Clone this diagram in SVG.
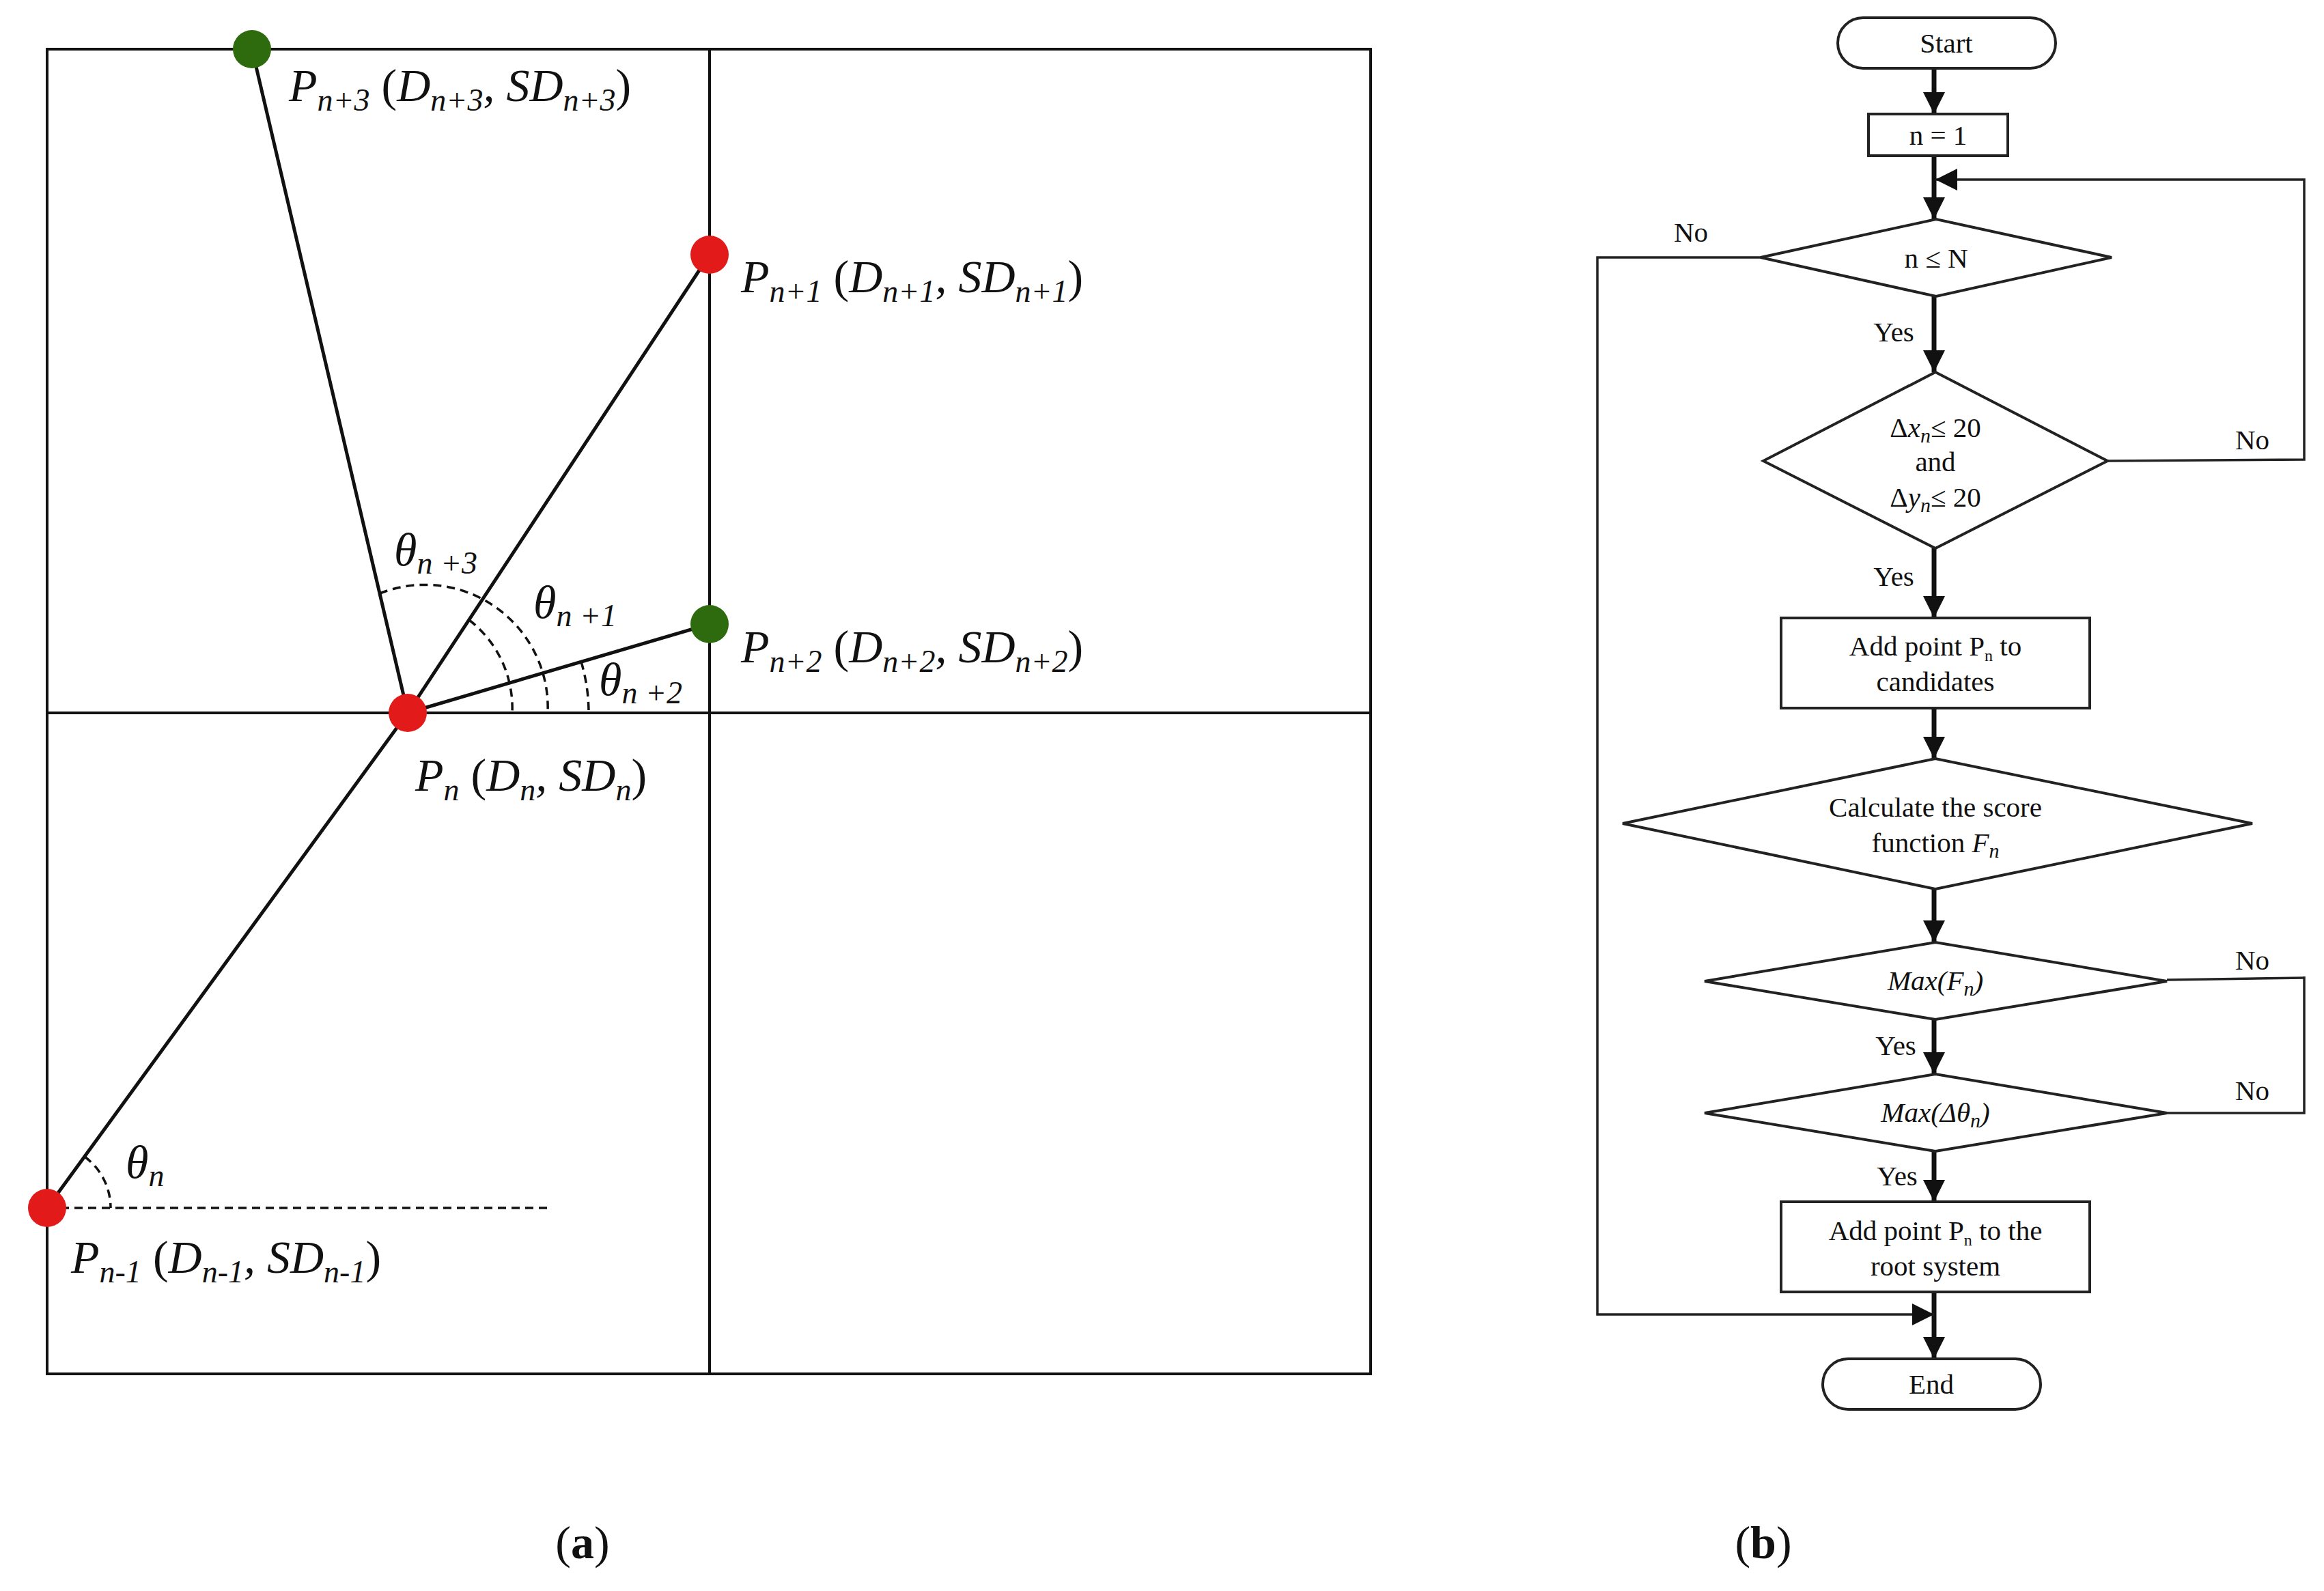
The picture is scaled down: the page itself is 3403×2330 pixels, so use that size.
<svg xmlns="http://www.w3.org/2000/svg" width="3403" height="2330" viewBox="0 0 3403 2330">
<style>
.t{font-family:"Liberation Serif",serif;fill:#111}
.lab{font-size:68px;font-style:italic}
.s{font-size:46px}
.fc{font-size:41px;text-anchor:middle}
.thin{stroke:#111;stroke-width:4;fill:none}
.seg{stroke:#111;stroke-width:5;fill:none}
.dash{stroke:#111;stroke-width:3.5;fill:none;stroke-dasharray:12 8}
.node{fill:#fff;stroke:#222;stroke-width:4}
.main{stroke:#111;stroke-width:7;fill:none}
.fl{stroke:#222;stroke-width:3.5;fill:none}
</style>
<defs>
<marker id="a2" viewBox="0 0 10 10" refX="10" refY="5" markerWidth="34" markerHeight="32" markerUnits="userSpaceOnUse" orient="auto"><path d="M0,0 L10,5 L0,10 z" fill="#111"/></marker>
</defs>
<rect width="3403" height="2330" fill="#fff"/>
<g id="panel-a">
<rect x="69" y="72" width="1938" height="1940" class="thin"/>
<line x1="1039" y1="72" x2="1039" y2="2012" class="thin"/>
<line x1="69" y1="1044" x2="2007" y2="1044" class="thin"/>
<line x1="69" y1="1769" x2="807" y2="1769" class="dash"/>
<line x1="597" y1="1044" x2="369" y2="72" class="seg"/>
<line x1="597" y1="1044" x2="1039" y2="373" class="seg"/>
<line x1="597" y1="1044" x2="1039" y2="914" class="seg"/>
<line x1="597" y1="1044" x2="69" y2="1769" class="seg"/>
<path d="M556,869 A180,180 0 0 1 802,1044" class="dash"/>
<path d="M687,908 A163,163 0 0 1 750,1044" class="dash"/>
<path d="M851,969 A265,265 0 0 1 862,1044" class="dash"/>
<path d="M124,1694 A93,93 0 0 1 162,1769" class="dash"/>
<circle cx="369" cy="72" r="28" fill="#2e6b0e"/>
<circle cx="1039" cy="373" r="28" fill="#e21a1a"/>
<circle cx="1039" cy="914" r="28" fill="#2e6b0e"/>
<circle cx="597" cy="1044" r="28" fill="#e21a1a"/>
<circle cx="69" cy="1769" r="28" fill="#e21a1a"/>
<text class="t lab" x="423" y="148">P<tspan class="s" dy="14">n+3</tspan><tspan dy="-14" font-style="normal"> (</tspan>D<tspan class="s" dy="14">n+3</tspan><tspan dy="-14">, SD</tspan><tspan class="s" dy="14">n+3</tspan><tspan dy="-14" font-style="normal">)</tspan></text>
<text class="t lab" x="1085" y="428">P<tspan class="s" dy="14">n+1</tspan><tspan dy="-14" font-style="normal"> (</tspan>D<tspan class="s" dy="14">n+1</tspan><tspan dy="-14">, SD</tspan><tspan class="s" dy="14">n+1</tspan><tspan dy="-14" font-style="normal">)</tspan></text>
<text class="t lab" x="1085" y="970">P<tspan class="s" dy="14">n+2</tspan><tspan dy="-14" font-style="normal"> (</tspan>D<tspan class="s" dy="14">n+2</tspan><tspan dy="-14">, SD</tspan><tspan class="s" dy="14">n+2</tspan><tspan dy="-14" font-style="normal">)</tspan></text>
<text class="t lab" x="608" y="1158">P<tspan class="s" dy="14">n</tspan><tspan dy="-14" font-style="normal"> (</tspan>D<tspan class="s" dy="14">n</tspan><tspan dy="-14">, SD</tspan><tspan class="s" dy="14">n</tspan><tspan dy="-14" font-style="normal">)</tspan></text>
<text class="t lab" x="104" y="1864">P<tspan class="s" dy="14">n-1</tspan><tspan dy="-14" font-style="normal"> (</tspan>D<tspan class="s" dy="14">n-1</tspan><tspan dy="-14">, SD</tspan><tspan class="s" dy="14">n-1</tspan><tspan dy="-14" font-style="normal">)</tspan></text>
<text class="t lab" x="577" y="828">θ<tspan class="s" dy="12">n +3</tspan></text>
<text class="t lab" x="781" y="905">θ<tspan class="s" dy="12">n +1</tspan></text>
<text class="t lab" x="877" y="1018">θ<tspan class="s" dy="12">n +2</tspan></text>
<text class="t lab" x="184" y="1725">θ<tspan class="s" dy="12">n</tspan></text>
<text class="t" x="853" y="2282" font-size="68" text-anchor="middle">(<tspan font-weight="bold">a</tspan>)</text>
<text class="t" x="2582" y="2282" font-size="68" text-anchor="middle">(<tspan font-weight="bold">b</tspan>)</text>
</g>
<g id="connectors">
<line x1="2832" y1="100" x2="2832" y2="167" class="main" marker-end="url(#a2)"/>
<line x1="2832" y1="228" x2="2832" y2="321" class="main" marker-end="url(#a2)"/>
<line x1="2832" y1="434" x2="2832" y2="545" class="main" marker-end="url(#a2)"/>
<line x1="2832" y1="803" x2="2832" y2="905" class="main" marker-end="url(#a2)"/>
<line x1="2832" y1="1037" x2="2832" y2="1111" class="main" marker-end="url(#a2)"/>
<line x1="2832" y1="1302" x2="2832" y2="1380" class="main" marker-end="url(#a2)"/>
<line x1="2832" y1="1493" x2="2832" y2="1573" class="main" marker-end="url(#a2)"/>
<line x1="2832" y1="1686" x2="2832" y2="1760" class="main" marker-end="url(#a2)"/>
<line x1="2832" y1="1892" x2="2832" y2="1990" class="main" marker-end="url(#a2)"/>
<polyline points="2578,377 2339,377 2339,1925 2832,1925" class="fl" marker-end="url(#a2)"/>
<polyline points="3086,675 3374,673 3374,263 2834,263" class="fl" marker-end="url(#a2)"/>
<line x1="3173" y1="1435" x2="3374" y2="1432" class="fl"/>
<polyline points="3173,1630 3374,1630 3374,1430" class="fl"/>
<text class="t fc" x="2476" y="354">No</text>
<text class="t fc" x="3298" y="658">No</text>
<text class="t fc" x="3298" y="1420">No</text>
<text class="t fc" x="3298" y="1611">No</text>
<text class="t fc" x="2773" y="500">Yes</text>
<text class="t fc" x="2773" y="858">Yes</text>
<text class="t fc" x="2776" y="1545">Yes</text>
<text class="t fc" x="2778" y="1736">Yes</text>
</g>
<g id="start"><rect x="2691" y="26" width="319" height="74" rx="37" class="node"/><text class="t fc" x="2850" y="77">Start</text></g>
<g id="n1"><rect x="2736" y="167" width="204" height="61" class="node"/><text class="t fc" x="2838" y="212">n = 1</text></g>
<g id="d1"><polygon points="2578,377 2835,321 3092,377 2835,434" class="node"/><text class="t fc" x="2835" y="392">n ≤ N</text></g>
<g id="d2"><polygon points="2582,675 2834,545 3086,675 2834,803" class="node"/>
<text class="t fc" x="2834" y="640">Δ<tspan font-style="italic">x</tspan><tspan font-style="italic" font-size="30" dy="8">n</tspan><tspan dy="-8">≤ 20</tspan></text>
<text class="t fc" x="2834" y="690">and</text>
<text class="t fc" x="2834" y="742">Δ<tspan font-style="italic">y</tspan><tspan font-style="italic" font-size="30" dy="8">n</tspan><tspan dy="-8">≤ 20</tspan></text></g>
<g id="b1"><rect x="2608" y="905" width="452" height="132" class="node"/>
<text class="t fc" x="2834" y="960">Add point P<tspan font-size="24" dy="8">n</tspan><tspan dy="-8">  to</tspan></text>
<text class="t fc" x="2834" y="1012">candidates</text></g>
<g id="d3"><polygon points="2376,1206 2834,1111 3298,1206 2834,1302" class="node"/>
<text class="t fc" x="2834" y="1196">Calculate the score</text>
<text class="t fc" x="2834" y="1248">function <tspan font-style="italic">F</tspan><tspan font-style="italic" font-size="30" dy="8">n</tspan></text></g>
<g id="d4"><polygon points="2496,1437 2834,1380 3173,1437 2834,1493" class="node"/>
<text class="t fc" x="2834" y="1450" font-style="italic">Max(F<tspan font-size="30" dy="8">n</tspan><tspan dy="-8">)</tspan></text></g>
<g id="d5"><polygon points="2496,1630 2834,1573 3173,1630 2834,1686" class="node"/>
<text class="t fc" x="2834" y="1643" font-style="italic">Max(Δθ<tspan font-size="30" dy="8">n</tspan><tspan dy="-8">)</tspan></text></g>
<g id="b2"><rect x="2608" y="1760" width="452" height="132" class="node"/>
<text class="t fc" x="2834" y="1816">Add point P<tspan font-size="24" dy="8">n</tspan><tspan dy="-8">  to the</tspan></text>
<text class="t fc" x="2834" y="1868">root system</text></g>
<g id="end"><rect x="2669" y="1990" width="319" height="74" rx="37" class="node"/><text class="t fc" x="2828" y="2041">End</text></g>
</svg>
